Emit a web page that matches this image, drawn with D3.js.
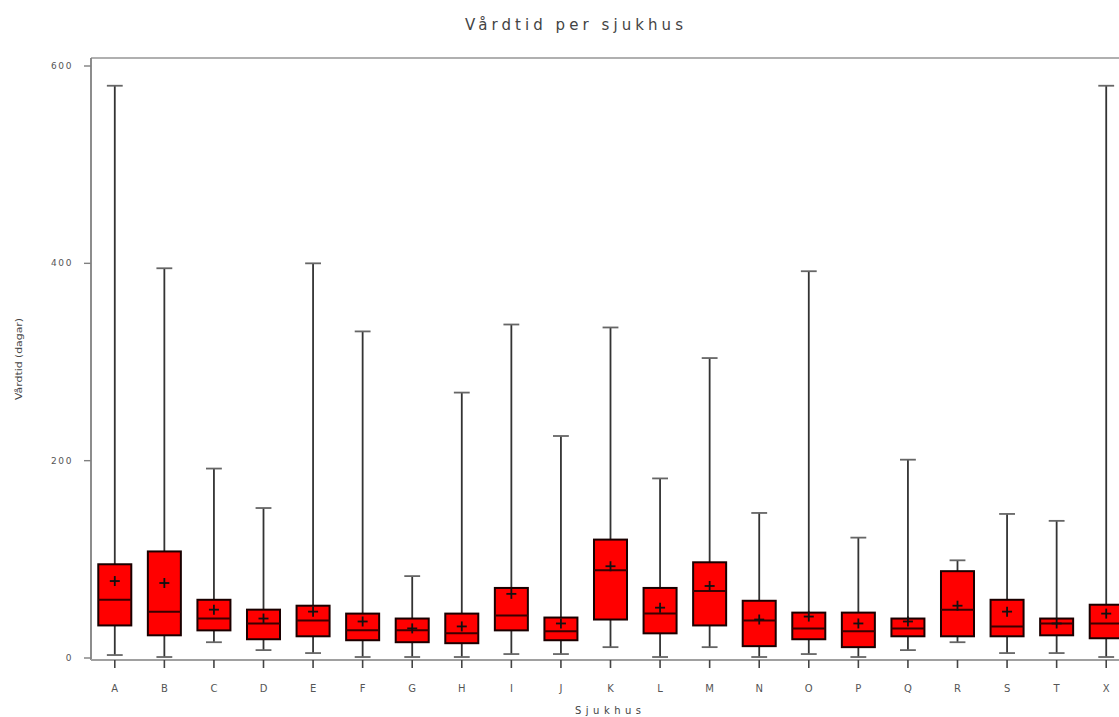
<!DOCTYPE html>
<html>
<head>
<meta charset="utf-8">
<script src="https://cdn.jsdelivr.net/npm/d3@7"></script>
<style>
  html, body { margin: 0; padding: 0; background: #fff; }
  svg { display: block; }
  text { font-family: "DejaVu Sans", "Liberation Sans", sans-serif; fill: #444; }
</style>
</head>
<body>
<svg id="chart" width="1119" height="717"></svg>
<script>
// Vårdtid (dagar) per sjukhus: five-number summary plus mean
const categories = ["A","B","C","D","E","F","G","H","I","J","K","L","M","N","O","P","Q","R","S","T","X"];
const minValues    = [3, 1, 16, 8, 5, 1, 1, 1, 4, 4, 11, 1, 11, 1, 4, 1, 8, 16, 5, 5, 1];
const q1Values     = [33, 23, 28, 19, 22, 18, 16, 15, 28, 18, 39, 25, 33, 12, 19, 11, 22, 22, 22, 23, 20];
const medianValues = [59, 47, 40, 35, 38, 28, 28, 25, 43, 27, 89, 45, 68, 38, 30, 27, 30, 49, 32, 35, 35];
const q3Values     = [95, 108, 59, 49, 53, 45, 40, 45, 71, 41, 120, 71, 97, 58, 46, 46, 40, 88, 59, 40, 54];
const maxValues    = [580, 395, 192, 152, 400, 331, 83, 269, 338, 225, 335, 182, 304, 147, 392, 122, 201, 99, 146, 139, 580];
const meanValues   = [78, 76, 49, 40, 47, 37, 30, 32, 65, 35, 93, 51, 73, 39, 42, 35, 37, 53, 47, 35, 45];
const yTicks = [0, 200, 400, 600];

const titleText = "Vårdtid per sjukhus";
const xTitle = "Sjukhus";
const yTitle = "Vårdtid (dagar)";

const boxes = categories.map((c, i) => ({
  cat: c, min: minValues[i], q1: q1Values[i], median: medianValues[i],
  q3: q3Values[i], max: maxValues[i], mean: meanValues[i]
}));

const svg = d3.select("#chart");

const plot = { left: 91, right: 1131, top: 58, bottom: 660 };

const x = d3.scaleBand()
  .domain(categories)
  .range([plot.left - 1, plot.right])
  .paddingInner(0.334)
  .paddingOuter(0.167);

const y = d3.scaleLinear().domain([0, 600]).range([658, 66]);

const bw = x.bandwidth();
const capW = bw * 0.48;
const cx = d => x(d.cat) + bw / 2;

// Frame: top border, left and bottom axis lines
svg.append("line")
  .attr("x1", plot.left).attr("x2", 1119)
  .attr("y1", plot.top).attr("y2", plot.top)
  .attr("stroke", "#b0b0b0").attr("stroke-width", 2);
svg.append("line")
  .attr("x1", plot.left).attr("x2", plot.left)
  .attr("y1", plot.top).attr("y2", plot.bottom)
  .attr("stroke", "#808080").attr("stroke-width", 1.8);
svg.append("line")
  .attr("x1", plot.left).attr("x2", 1119)
  .attr("y1", plot.bottom).attr("y2", plot.bottom)
  .attr("stroke", "#a0a0a0").attr("stroke-width", 1.8);

// Y axis ticks and labels
const yAxis = svg.append("g");
yAxis.selectAll("line").data(yTicks).join("line")
  .attr("x1", plot.left - 7).attr("x2", plot.left)
  .attr("y1", d => y(d)).attr("y2", d => y(d))
  .attr("stroke", "#808080").attr("stroke-width", 1.4);
yAxis.selectAll("text").data(yTicks).join("text")
  .attr("x", 73).attr("y", d => y(d) + 3)
  .attr("text-anchor", "end")
  .attr("font-size", 9)
  .attr("letter-spacing", 1.6)
  .style("fill", "#555")
  .text(d => d);

// X axis ticks and labels
const xAxis = svg.append("g");
xAxis.selectAll("line").data(boxes).join("line")
  .attr("x1", cx).attr("x2", cx)
  .attr("y1", plot.bottom).attr("y2", plot.bottom + 8)
  .attr("stroke", "#444").attr("stroke-width", 1.6);
xAxis.selectAll("text").data(boxes).join("text")
  .attr("x", cx).attr("y", 692)
  .attr("text-anchor", "middle")
  .attr("font-size", 10)
  .style("fill", "#555")
  .text(d => d.cat);

// Whiskers with caps
const wh = svg.append("g").attr("stroke", "#333").attr("stroke-width", 1.8);
wh.selectAll("line.stem").data(boxes).join("line")
  .attr("class", "stem")
  .attr("x1", cx).attr("x2", cx)
  .attr("y1", d => y(d.min)).attr("y2", d => y(d.max));
wh.selectAll("line.capTop").data(boxes).join("line")
  .attr("class", "capTop")
  .attr("x1", d => cx(d) - capW / 2).attr("x2", d => cx(d) + capW / 2)
  .attr("y1", d => y(d.max)).attr("y2", d => y(d.max))
  .attr("stroke", "#666");
wh.selectAll("line.capBot").data(boxes).join("line")
  .attr("class", "capBot")
  .attr("x1", d => cx(d) - capW / 2).attr("x2", d => cx(d) + capW / 2)
  .attr("y1", d => y(d.min)).attr("y2", d => y(d.min))
  .attr("stroke", "#666");

// Boxes
svg.append("g").selectAll("rect").data(boxes).join("rect")
  .attr("x", d => x(d.cat))
  .attr("width", bw)
  .attr("y", d => y(d.q3))
  .attr("height", d => y(d.q1) - y(d.q3))
  .attr("fill", "#ff0000")
  .attr("stroke", "#1a0000")
  .attr("stroke-width", 2);

// Medians
svg.append("g").selectAll("line").data(boxes).join("line")
  .attr("x1", d => x(d.cat)).attr("x2", d => x(d.cat) + bw)
  .attr("y1", d => y(d.median)).attr("y2", d => y(d.median))
  .attr("stroke", "#3a0000").attr("stroke-width", 2);

// Mean markers (+)
const mk = svg.append("g").attr("stroke", "#111").attr("stroke-width", 1.8);
mk.selectAll("line.h").data(boxes).join("line")
  .attr("class", "h")
  .attr("x1", d => cx(d) - 5).attr("x2", d => cx(d) + 5)
  .attr("y1", d => y(d.mean)).attr("y2", d => y(d.mean));
mk.selectAll("line.v").data(boxes).join("line")
  .attr("class", "v")
  .attr("x1", cx).attr("x2", cx)
  .attr("y1", d => y(d.mean) - 5).attr("y2", d => y(d.mean) + 5);

// Titles
svg.append("text")
  .attr("x", 574).attr("y", 30)
  .attr("text-anchor", "middle")
  .attr("font-size", 15)
  .attr("textLength", 218)
  .attr("lengthAdjust", "spacing")
  .text(titleText);

svg.append("text")
  .attr("x", 608).attr("y", 714)
  .attr("text-anchor", "middle")
  .attr("font-size", 10)
  .attr("textLength", 66)
  .attr("lengthAdjust", "spacing")
  .text(xTitle);

svg.append("text")
  .attr("transform", "translate(22,359) rotate(-90)")
  .attr("text-anchor", "middle")
  .attr("font-size", 9)
  .attr("textLength", 82)
  .attr("lengthAdjust", "spacingAndGlyphs")
  .text(yTitle);
</script>
</body>
</html>
